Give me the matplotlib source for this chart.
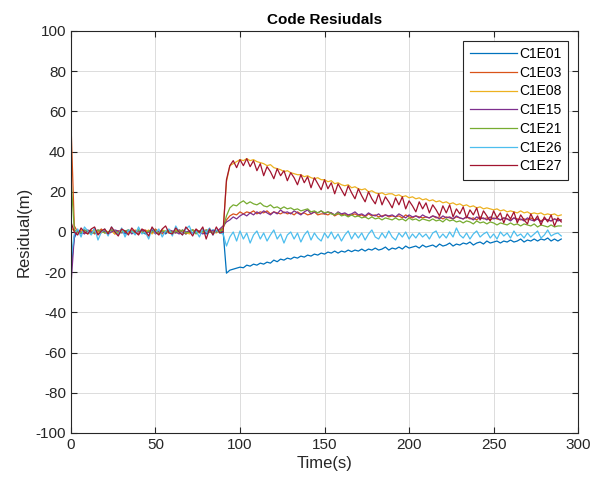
import numpy as np
import matplotlib
matplotlib.use("Agg")
import matplotlib.pyplot as plt

plt.rcParams['font.family'] = ['Liberation Sans', 'DejaVu Sans']
plt.rcParams['axes.unicode_minus'] = False

# time axis, one sample every 2 s
time_s = np.arange(0, 291, 2)

labels = ["C1E01", "C1E03", "C1E08", "C1E15", "C1E21", "C1E26", "C1E27"]
colors = ["#0072BD", "#D95319", "#EDB120", "#7E2F8E", "#77AC30", "#4DBEEE", "#A2142F"]

c1e01 = [
    -18, -3, 0.5, -1, 1, 0, -0.5, 1.5, -1, 0.5,
    0, -1, 1, 0.5, -0.5, 1, -1, 0, 0.5, -0.5,
    1, 0, -1, 0.5, 1, -0.5, 0, 1, -1, 0.5,
    0, -0.5, 1, 0, -1, 0.5, 1, -0.5, 0, 0.5,
    -1, 0, 1, 0.5, 0,
    0.5, -20.5,
    -19, -18.5, -18, -17.5, -17.8, -16.5, -17, -16, -16.5, -15.5,
    -16, -15, -15.5, -14, -14.8, -13.5, -14, -13, -13.5, -12.5,
    -13, -12, -12.5, -11.5, -12, -11, -11.5, -10.5, -11, -10,
    -10.5, -9.5, -10.5, -9.5, -10, -9, -9.8, -9, -9.5, -8.5,
    -9.5, -8.5, -9, -8, -9, -8.5, -7.5, -9, -8, -8.5,
    -7.5, -8.5, -7, -8, -7.5, -7, -8, -6.5, -7.5, -7,
    -6.5, -7.5, -6, -7, -6.5, -5.5, -7, -6, -6.5, -5.5,
    -6, -5, -6.5, -5.5, -5, -6, -4.5, -5.5, -5, -4.5,
    -5.5, -4.5, -5, -4, -5, -4.5, -3.5, -5, -4, -4.5,
    -3.5, -4.5, -3.5, -4, -3, -4.5, -3.5, -4.5, -3.5,
]

c1e03 = [
    55, 3, 0, 1, -0.5, 0.5, 1, -1, 0, 1.5,
    -0.5, 0, 1, -1, 0.5, 1, 0, -0.5, 1, 0,
    -1, 0.5, 1, 0, -0.5, 1.5, 0, -1, 0.5, 1,
    0, -0.5, 1, 0.5, -1, 0, 1, 0.5, -0.5, 0,
    1, 0.5, -0.5, 0, 1,
    2, 6, 8, 9, 8.5, 10, 9, 10, 9.5, 10.5,
    9, 10, 9.5, 10.5, 9, 10, 9.5, 9, 10, 9,
    9.5, 8.5, 10, 9, 9.5, 8.5, 9, 10, 8.5, 9,
    9, 8.5, 9.5, 8, 9, 8.5, 9, 8, 8.5, 9,
    8, 8.5, 7.5, 9, 8, 8.5, 7.5, 8, 8.5, 7.5,
    8, 7.5, 8, 7, 8.5, 7.5, 7, 8, 7.5, 7,
    7.5, 7, 8, 7, 7.5, 6.5, 7.5, 7, 6.5, 7.5,
    7, 6.5, 7.5, 6.5, 7, 6, 7.5, 6.5, 7, 6,
    7, 6.5, 6, 7, 6.5, 6, 7, 6.5, 6, 6.5,
    6, 7, 6, 6.5, 5.5, 6.5, 6, 5.5, 6.5, 6,
    6,
]

c1e08 = [
    2, 0.5, -0.5, 1, 0, -1, 0.5, 1, 0, -0.5,
    1, 0, 0.5, -1, 0, 1, 0.5, -0.5, 0, 1,
    0.5, -0.5, 0, 1, -1, 0.5, 0, 1, 0.5, -0.5,
    0, 1, -0.5, 0.5, 0, -1, 1, 0, 0.5, -0.5,
    0.5, 1, 0, -0.5, 0.5,
    1, 25, 33, 34, 35, 36, 35.5, 36.5, 35.5, 36,
    35, 34.5, 34, 33, 33.5, 32, 31.5, 31, 30, 30.5,
    29.5, 29, 28.5, 28.5, 27.5, 28, 27, 26.5, 27, 26,
    26, 25, 25.5, 24, 24.5, 23.5, 23, 23.5, 22, 22.5,
    21.5, 21, 21.5, 20, 20.5, 19.5, 19, 19.5, 18.5, 19,
    19, 18, 18.5, 17.5, 18, 17, 17.5, 16.5, 17, 16,
    16.5, 15.5, 16, 15, 15.5, 14.5, 15, 14, 14.5, 13.5,
    14, 13, 13.5, 12.5, 13, 12, 12.5, 11.5, 12, 11.5,
    11, 11.5, 10.5, 11, 10, 10.5, 10, 9.5, 10.5, 9.5,
    10, 9, 9.5, 9, 9.5, 8.5, 9, 8.5, 9, 8,
    8.5,
]

c1e15 = [
    -27, -2, 0.5, 0, -1, 1, 0, -0.5, 1, 0,
    0.5, -1, 0, 1, 0.5, -0.5, 0, 1, -1, 0.5,
    0, 1, -0.5, 0, 1.5, -1, 0.5, 0, -0.5, 1,
    0.5, 0, -1, 1, 0, 0.5, -0.5, 1, 0, -1,
    0, 1, 0.5, 0, 1.5,
    3, 5, 6, 7.5, 6.5, 8, 9, 8, 9.5, 8.5,
    10, 9, 10.5, 9.5, 8.5, 10, 9, 11, 9.5, 10,
    9, 10.5, 9.5, 8.5, 10, 11, 9, 10, 9.5, 10.5,
    9, 10, 9.5, 8.5, 10, 9, 9.5, 8.5, 9, 10,
    8.5, 9, 8, 9.5, 8.5, 8, 9, 7.5, 8.5, 8,
    8.5, 7.5, 9, 8, 7, 8.5, 7.5, 8, 7, 8.5,
    7.5, 7, 8, 7.5, 6.5, 8, 7, 7.5, 6.5, 8,
    7, 6.5, 7.5, 7, 6, 7.5, 6.5, 7, 6, 7.5,
    6.5, 7, 6, 7, 6.5, 5.5, 7, 6, 6.5, 5.5,
    7, 6, 5.5, 6.5, 5, 6.5, 6, 5.5, 6.5, 5.5,
    6,
]

c1e21 = [
    27, 1, 0, -0.5, 1, 0.5, -1, 0, 1, 0.5,
    -0.5, 0, 1, 0.5, -1, 0, 0.5, 1, 0, -0.5,
    1, 0, -0.5, 0.5, 0, 1, -1, 0.5, 0, 1,
    -0.5, 0.5, 0, 1, -0.5, 0, 1, -1, 0.5, 0,
    1, 0, -0.5, 0.5, 0,
    2, 8, 12, 13.5, 13, 14.5, 15.5, 14, 15, 14,
    13.5, 14.5, 13, 12.5, 13.5, 12, 12.5, 11.5, 12.5, 11.5,
    12, 11, 11.5, 10.5, 11, 11.5, 10, 10.5, 9.5, 10.5,
    9.5, 10, 9, 8.5, 9.5, 8, 8.5, 7.5, 8.5, 7.5,
    8, 7, 7.5, 6.5, 7.5, 6.5, 7, 6, 7, 6.5,
    6, 7, 6, 6.5, 5.5, 7, 6, 6.5, 5.5, 6.5,
    6, 5.5, 6.5, 5.5, 6, 5, 6.5, 5.5, 6, 5,
    5.5, 4.5, 5.5, 5, 4, 5.5, 4.5, 5, 4, 5,
    4.5, 3.5, 4.5, 4, 3.5, 4.5, 3.5, 4, 3, 4,
    3.5, 3, 4, 2.5, 3.5, 3, 2.5, 3.5, 2.5, 3,
    3,
]

c1e26 = [
    -14, -1, 1.5, -2.5, 2.5, 0.5, -1.5, 2, -4, 0,
    1.5, -2, 2.5, 0, -1.5, 2, -2.5, 1, 0.5, -1.5,
    2.5, -1, 0, -3.5, 2, -0.5, 1.5, -2.5, 0.5, 1.5,
    -2, 3, 0, -1.5, 1.5, 3, -1, 0.5, -2.5, 1.5,
    0, 2, -1.5, 1, -0.5,
    -1, -7, -2.5, 0, -4.5, 0.5, -3.5, -0.5, -5.5, -1.5,
    0.5, -3.5, -0.5, -4.5, -1.5, 1, -3.5, -1, -5.5, -1.5,
    0, -3.5, -0.5, -5, -1.5, 0.5, -4, -0.5, -3, -4.5,
    -0.5, -3, 0, -3.5, -1, -4.5, -1.5, 0.5, -3.5, -0.5,
    -3, -0.5, -4, -1, 1, -2.5, -3.5, -0.5, -3, 0.5,
    -2.5, -4, -0.5, -2.5, 0, -3.5, -1, -3, -0.5, -2.5,
    -1, -3.5, -0.5, 0.5, -3, -1, -3, 0, -2.5, 2,
    -1.5, -3, -0.5, -3.5, -1, 0.5, -2.5, -1, 0, -3,
    -1, -3.5, 0, -2, -0.5, -3, 0.5, -2, -1, -3,
    -0.5, -2.5, -1, 0.5, -3, -1.5, 1, -2, -1, -0.5,
    -2,
]

c1e27 = [
    5, 0, -1.5, 2, 0, -1, 1.5, 2.5, -1.5, 0.5,
    1.5, -1, 2.5, 0, -2, 1.5, 0.5, -1.5, 2, 0,
    -1.5, 1.5, 0.5, -2, 2.5, 0, -1.5, 1.5, 3, -0.5,
    -1, 2, 0, -1.5, 2.5, 0.5, -2, 1.5, 0, 2.5,
    -3.5, 1.5, -1.5, 2.5, -0.5,
    0, 26, 33, 35.5, 32, 36, 33, 36.5, 32.5, 35.5,
    30.5, 34, 28, 32.5, 30, 26.5, 31.5, 28, 30.5, 25.5,
    29.5, 27, 23.5, 28.5, 24.5, 27.5, 22, 27, 24, 21,
    26, 21.5, 24.5, 19, 24, 21, 18, 23, 19.5, 16.5,
    21.5, 18, 15, 20, 16.5, 14, 19, 13.5, 17.5, 15,
    12, 17, 13.5, 17.5, 11.5, 15.5, 13, 10, 15, 11.5,
    14.5, 9.5, 13.5, 11, 8, 13, 9.5, 13.5, 7.5, 11.5,
    9, 12.5, 7, 11, 8.5, 12, 6, 10.5, 8, 5.5,
    10.5, 7, 9.5, 4.5, 9, 6.5, 10, 4.5, 8.5, 6,
    4, 9, 5.5, 8, 3.5, 7.5, 5, 8.5, 3, 7,
    5,
]

series = [c1e01, c1e03, c1e08, c1e15, c1e21, c1e26, c1e27]

fig = plt.figure(figsize=(6.01, 4.92), dpi=100)
ax = fig.add_axes([0.118, 0.120, 0.844, 0.817])

for vals, lab, col in zip(series, labels, colors):
    ax.plot(time_s, vals, color=col, lw=0.9, label=lab)

ax.set_xlim(0, 300)
ax.set_ylim(-100, 100)
ax.set_xticks(np.arange(0, 301, 50))
ax.set_yticks(np.arange(-100, 101, 20))
ax.grid(True, color='#dcdcdc', lw=0.7)
ax.set_axisbelow(True)
ax.tick_params(direction='in', length=4, labelsize=11, colors='#262626',
               top=True, right=True)
for sp in ax.spines.values():
    sp.set_color('#262626')
    sp.set_linewidth(0.8)

ax.set_title('Code Resiudals', fontsize=11, fontweight='bold', pad=5)
ax.set_xlabel('Time(s)', fontsize=12, color='#262626', labelpad=3)
ax.set_ylabel('Residual(m)', fontsize=12, color='#262626', labelpad=3)

leg = ax.legend(loc='upper right', fontsize=10, fancybox=False, framealpha=1,
                edgecolor='#262626', handlelength=3.4, labelspacing=0.34,
                borderaxespad=0.7, handletextpad=0.2, borderpad=0.45)
leg.get_frame().set_linewidth(0.8)

fig.savefig('out.png', dpi=100)
